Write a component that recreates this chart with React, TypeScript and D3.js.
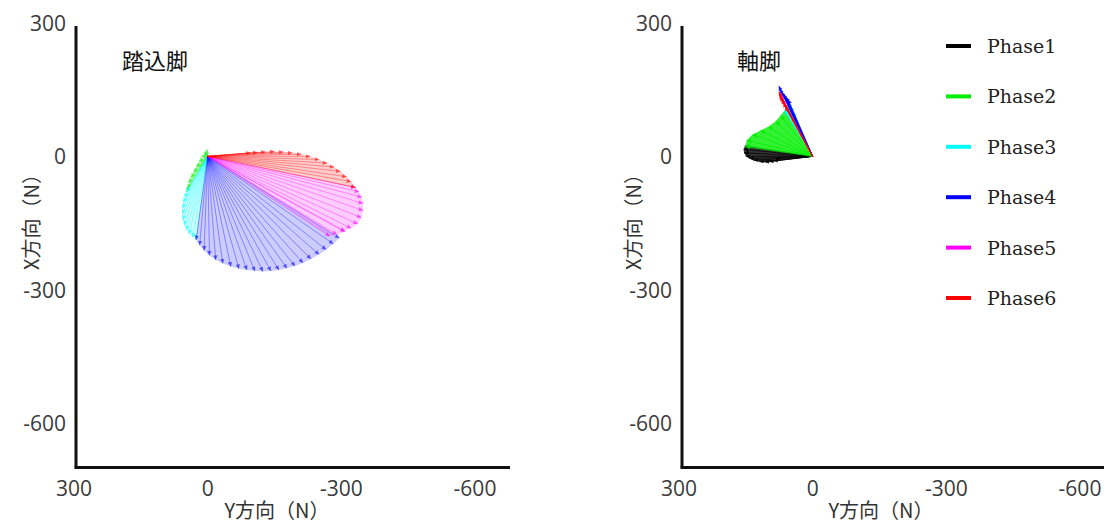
import React from 'react';
import * as d3 from 'd3';

// force vectors per phase, [Y方向, X方向] in N
const phases = ['Phase1', 'Phase2', 'Phase3', 'Phase4', 'Phase5', 'Phase6'];
const phaseColors = ['#000000', '#00ee00', '#00ffff', '#0000ff', '#ff00ff', '#ff0000'];

const leftPhase1: number[][] = [];
const leftPhase2 = [[2, 16], [8, 10], [14, 0], [20, -12], [26, -24], [32, -36], [38, -48], [43, -60], [46, -72], [48, -80]];
const leftPhase3 = [[48, -80], [52, -92], [55, -104], [57, -117], [57, -130], [56, -143], [53, -155], [48, -166], [42, -175], [34, -182], [26, -188]];
const leftPhase4 = [[26, -188], [18, -200], [8, -212], [-4, -223], [-18, -233], [-34, -241], [-52, -248], [-70, -253], [-88, -256], [-106, -258], [-124, -259], [-142, -258], [-160, -256], [-178, -252], [-196, -247], [-214, -240], [-232, -231], [-250, -221], [-266, -210], [-282, -197], [-296, -184]];
const leftPhase5 = [[-274, -180], [-290, -176], [-308, -170], [-308, -168], [-322, -162], [-337, -152], [-345, -138], [-349, -122], [-349, -106], [-346, -92], [-340, -80], [-332, -70]];
const leftPhase6 = [[-332, -70], [-322, -57], [-312, -46], [-298, -34], [-284, -24], [-268, -15], [-250, -7], [-230, 0], [-210, 5], [-190, 8], [-170, 10], [-150, 11], [-130, 10], [-112, 9], [-96, 8]];

const rightPhase1 = [[152, 24], [155, 16], [154, 8], [150, 0], [142, -5], [132, -9], [120, -12], [108, -13], [98, -12], [88, -10], [84, -6]];
const rightPhase2 = [[151, 22], [148, 36], [135, 49], [117, 58], [99, 67], [83, 79], [72, 92], [63, 103]];
const rightPhase3 = [[63, 103], [58, 112], [54, 120], [50, 112], [44, 100]];
const rightPhase4 = [[76, 158], [74, 152], [70, 146], [65, 140], [60, 134], [55, 128]];
const rightPhase5 = [[72, 138], [68, 128]];
const rightPhase6 = [[76, 146], [75, 140], [73, 134], [70, 128], [66, 120], [62, 112]];

const tickValues = [300, 0, -300, -600];
const titles = ['踏込脚', '軸脚'];

const W = 1104;
const H = 523;

const panels = [
  {
    title: titles[0],
    vectors: [leftPhase1, leftPhase2, leftPhase3, leftPhase4, leftPhase5, leftPhase6],
    xRange: [74, 475], axisX: 76, axisEnd: 510, titleX: 122, yTitleX: 30, xTitleX: 277,
    fillOp: 0.2, lineOp: 0.4, markOp: 0.55,
  },
  {
    title: titles[1],
    vectors: [rightPhase1, rightPhase2, rightPhase3, rightPhase4, rightPhase5, rightPhase6],
    xRange: [679, 1080], axisX: 682, axisEnd: 1104, titleX: 737, yTitleX: 632, xTitleX: 881,
    fillOp: 0.8, lineOp: 0.8, markOp: 0.8,
  },
];

const y = d3.scaleLinear().domain([300, -600]).range([23, 423]);

const tickFont = '"Open Sans", "DejaVu Sans", sans-serif';
const cjkFont = '"Noto Sans CJK JP", sans-serif';

const Panel = ({ p, idx }: { p: any; idx: number }) => {
  const x = d3.scaleLinear().domain([300, -600]).range(p.xRange);
  const area = d3.line<number[]>().x((d) => x(d[0])).y((d) => y(d[1]));
  const axisBottom = y(-700);
  return (
    <g>
      <defs>
        {phaseColors.map((c, i) => (
          <marker key={i} id={`arrow-${idx}-${i}`} viewBox="0 0 10 10" refX="10" refY="5"
            markerWidth="4.5" markerHeight="4.5" markerUnits="userSpaceOnUse" orient="auto">
            <path d="M0,0 L10,5 L0,10 z" fill={c} fillOpacity={p.markOp} />
          </marker>
        ))}
      </defs>
      {p.vectors.map((pts: number[][], i: number) => (
        <g key={i}>
          {pts.length > 0 && (
            <path d={area([[0, 0], ...pts, [0, 0]]) || ''} fill={phaseColors[i]} fillOpacity={p.fillOp} stroke="none" />
          )}
          {pts.map((d, j) => (
            <line key={j} x1={x(0)} y1={y(0)} x2={x(d[0])} y2={y(d[1])}
              stroke={phaseColors[i]} strokeOpacity={p.lineOp} strokeWidth={0.9}
              markerEnd={`url(#arrow-${idx}-${i})`} />
          ))}
        </g>
      ))}

      <line x1={p.axisX} x2={p.axisX} y1={26} y2={axisBottom} stroke="#111" strokeWidth={3} />
      <line x1={p.axisX - 1.5} x2={p.axisEnd} y1={axisBottom} y2={axisBottom} stroke="#111" strokeWidth={3} />

      {tickValues.map((t) => (
        <text key={'y' + t} x={p.axisX - 10} y={y(t)} textAnchor="end" dominantBaseline="central"
          fontFamily={tickFont} fontSize={21} fill="#3a3a3a">{t}</text>
      ))}
      {tickValues.map((t) => (
        <text key={'x' + t} x={x(t)} y={496} textAnchor="middle"
          fontFamily={tickFont} fontSize={21} fill="#3a3a3a">{t}</text>
      ))}

      <text x={p.xTitleX} y={518} textAnchor="middle" fontFamily={cjkFont} fontSize={20} fill="#333">Y方向（N）</text>
      <text transform={`translate(${p.yTitleX},217) rotate(-90)`} textAnchor="middle" dominantBaseline="central"
        fontFamily={cjkFont} fontSize={20} fill="#333">X方向（N）</text>

      <text x={p.titleX} y={69} fontFamily={cjkFont} fontSize={22} fill="#111">{p.title}</text>
    </g>
  );
};

export default function App() {
  return (
    <svg width={W} height={H} style={{ position: 'absolute', left: 0, top: 0, background: '#fff' }}>
      {panels.map((p, i) => <Panel key={i} p={p} idx={i} />)}
      <g>
        {phases.map((name, i) => (
          <g key={name} transform={`translate(946,${46 + i * 50.4})`}>
            <line x1={0} x2={25} y1={0} y2={0} stroke={phaseColors[i]} strokeWidth={4} />
            <text x={41} y={0} dominantBaseline="central" fontFamily='"DejaVu Serif", serif' fontSize={19} fill="#222">{name}</text>
          </g>
        ))}
      </g>
    </svg>
  );
}
